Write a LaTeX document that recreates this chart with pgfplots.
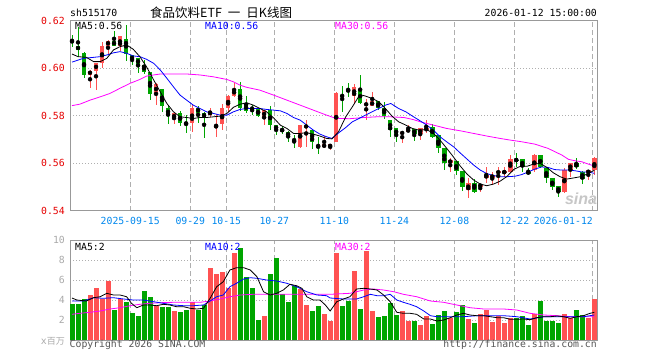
\documentclass[border=0pt]{standalone}
\usepackage{pgfplots}
\pgfplotsset{compat=1.18}
\usepackage{pgfplotstable}
\usepackage{fontspec}
\setmainfont{DejaVu Sans Mono}
\newfontfamily\cjk{Noto Sans CJK SC}
\newfontfamily\logofont{Liberation Sans}
\definecolor{cred}{RGB}{255,82,82}
\definecolor{cgreen}{RGB}{0,165,0}
\definecolor{tred}{RGB}{230,0,0}
\definecolor{tblue}{RGB}{0,136,238}
\definecolor{bgray}{RGB}{153,153,153}
\definecolor{ggray}{RGB}{175,175,175}
\definecolor{lgray}{RGB}{170,170,170}
\definecolor{cmag}{RGB}{255,0,255}
\definecolor{cblue}{RGB}{0,0,255}
\definecolor{dgray}{RGB}{85,85,85}
\newcommand\f{\fontsize{9.8pt}{11pt}\selectfont}
\pgfplotsset{/pgf/number format/assume math mode=true}

% red (rising) candles: index open high low close
\pgfplotstableread{
i o h l c
3 0.5972 0.5990 0.5916 0.5989
4 0.5989 0.6022 0.5909 0.6021
5 0.6021 0.6108 0.6000 0.6094
6 0.6094 0.6118 0.6053 0.6115
8 0.6091 0.6135 0.6070 0.6133
14 0.5891 0.5937 0.5846 0.5933
17 0.5784 0.5815 0.5764 0.5812
20 0.5770 0.5844 0.5730 0.5830
23 0.5802 0.5832 0.5794 0.5819
24 0.5749 0.5806 0.5708 0.5760
25 0.5764 0.5848 0.5739 0.5830
26 0.5833 0.5887 0.5816 0.5882
27 0.5884 0.5936 0.5880 0.5912
32 0.5791 0.5825 0.5760 0.5823
38 0.5669 0.5762 0.5663 0.5760
39 0.5749 0.5781 0.5669 0.5760
42 0.5666 0.5714 0.5665 0.5680
43 0.5666 0.5682 0.5655 0.5680
44 0.5690 0.5899 0.5689 0.5894
47 0.5884 0.5933 0.5851 0.5919
49 0.5844 0.5872 0.5781 0.5851
50 0.5841 0.5900 0.5840 0.5861
55 0.5722 0.5733 0.5686 0.5732
56 0.5732 0.5760 0.5731 0.5742
58 0.5722 0.5747 0.5697 0.5746
59 0.5739 0.5781 0.5725 0.5746
63 0.5601 0.5620 0.5563 0.5613
66 0.5486 0.5536 0.5454 0.5517
68 0.5502 0.5512 0.5478 0.5510
69 0.5538 0.5585 0.5515 0.5550
70 0.5538 0.5563 0.5508 0.5550
71 0.5558 0.5585 0.5508 0.5566
72 0.5558 0.5585 0.5540 0.5566
73 0.5563 0.5634 0.5562 0.5616
77 0.5571 0.5638 0.5562 0.5634
82 0.5478 0.5578 0.5476 0.5571
83 0.5571 0.5602 0.5543 0.5600
86 0.5557 0.5573 0.5529 0.5571
87 0.5571 0.5627 0.5550 0.5620
}\redk

% green (falling) candles
\pgfplotstableread{
i o h l c
0 0.6115 0.6139 0.6090 0.6109
1 0.6094 0.6171 0.6045 0.6075
2 0.6063 0.6067 0.5958 0.5969
7 0.6115 0.6155 0.6091 0.6094
9 0.6123 0.6182 0.6028 0.6059
10 0.6053 0.6055 0.6013 0.6032
11 0.6042 0.6044 0.5979 0.6014
12 0.6014 0.6035 0.5977 0.5983
13 0.5983 0.5985 0.5867 0.5891
15 0.5910 0.5914 0.5816 0.5841
16 0.5833 0.5844 0.5764 0.5799
18 0.5809 0.5819 0.5756 0.5770
19 0.5770 0.5802 0.5728 0.5765
21 0.5833 0.5840 0.5767 0.5812
22 0.5812 0.5815 0.5708 0.5791
28 0.5912 0.5941 0.5820 0.5832
29 0.5848 0.5882 0.5811 0.5819
30 0.5832 0.5844 0.5802 0.5828
31 0.5830 0.5832 0.5794 0.5799
33 0.5823 0.5840 0.5739 0.5760
34 0.5760 0.5762 0.5718 0.5739
35 0.5741 0.5756 0.5722 0.5737
36 0.5732 0.5735 0.5690 0.5711
37 0.5699 0.5718 0.5664 0.5695
40 0.5739 0.5743 0.5659 0.5690
41 0.5671 0.5708 0.5637 0.5667
45 0.5885 0.5924 0.5816 0.5881
46 0.5907 0.5938 0.5879 0.5903
48 0.5912 0.5971 0.5848 0.5851
51 0.5861 0.5863 0.5823 0.5833
52 0.5830 0.5858 0.5785 0.5799
53 0.5781 0.5783 0.5711 0.5739
54 0.5746 0.5747 0.5690 0.5718
57 0.5742 0.5743 0.5694 0.5722
60 0.5753 0.5764 0.5705 0.5711
61 0.5718 0.5720 0.5643 0.5662
62 0.5662 0.5663 0.5571 0.5601
64 0.5608 0.5611 0.5550 0.5566
65 0.5566 0.5569 0.5484 0.5499
67 0.5517 0.5533 0.5476 0.5478
74 0.5615 0.5641 0.5585 0.5611
75 0.5616 0.5617 0.5563 0.5585
76 0.5562 0.5578 0.5550 0.5558
78 0.5634 0.5636 0.5579 0.5582
79 0.5579 0.5581 0.5515 0.5536
80 0.5536 0.5537 0.5489 0.5499
81 0.5503 0.5505 0.5457 0.5477
84 0.5599 0.5620 0.5574 0.5582
85 0.5563 0.5566 0.5512 0.5535
}\greenk

\pgfplotstableread{
i v
3 4.5
4 5.23
5 4.1
6 5.9
8 4.1
14 3.43
17 2.9
20 3.77
23 7.23
24 6.6
25 6.77
26 5.23
27 8.73
32 2.43
38 5.1
39 3.5
42 2.57
43 1.93
44 8.67
47 6.9
49 8.9
50 2.9
55 2.9
56 1.93
58 1.5
59 2.4
63 2.23
66 2.1
68 2.57
69 3.0
70 1.83
71 2.43
72 1.73
73 2.23
77 2.57
82 2.57
83 2.17
86 2.23
87 4.1
}\redv

\pgfplotstableread{
i v
0 3.6
1 3.6
2 4.1
7 3.0
9 3.77
10 2.67
11 2.4
12 4.9
13 4.33
15 3.27
16 3.27
18 2.77
19 3.0
21 3.0
22 3.5
28 9.23
29 6.33
30 5.23
31 2.0
33 6.6
34 8.17
35 4.57
36 3.83
37 5.43
40 2.9
41 3.43
45 3.4
46 3.9
48 3.1
51 2.33
52 2.43
53 3.73
54 2.5
57 1.9
60 1.6
61 2.5
62 2.9
64 2.77
65 3.5
67 1.73
74 2.23
75 2.43
76 1.5
78 3.9
79 1.93
80 1.93
81 1.73
84 3.0
85 2.5
}\greenv

\pgfplotsset{
  panel/.style={
    anchor=south west, scale only axis, width=527.3pt,
    xmin=-0.3333, xmax=87.5,
    axis line style={draw=bgray, line width=0.9pt},
    tick style={draw=none},
    xtick={9.7,19.7,25.7,33.7,43.7,53.7,63.7,73.7,86.75},
    xmajorgrids, ymajorgrids,
    x grid style={draw=ggray, line width=0.9pt, dash pattern=on 5pt off 3pt},
    y grid style={draw=ggray, line width=0.8pt, dash pattern=on 1pt off 2pt},
  },
  wick/.style={only marks, mark=none, forget plot,
    error bars/.cd, y dir=both, y explicit, error mark=none,
    error bar style={draw=#1, line width=1pt, solid}},
  body/.style={only marks, mark=none, forget plot,
    error bars/.cd, y dir=both, y explicit, error mark=none,
    error bar style={draw=#1, line width=4.6pt, solid}},
}

\begin{document}
\begin{tikzpicture}
\fill[white] (0pt,0pt) rectangle (660pt,360pt);
\path[use as bounding box] (0pt,0pt) rectangle (660pt,360pt);

\begin{axis}[panel, at={(70pt,149.3pt)}, height=190.2pt,
  ymin=0.54, ymax=0.62,
  xticklabels={2025-09-15,09-29,10-15,10-27,11-10,11-24,12-08,12-22,\llap{2026-01-12}},
  xticklabel style={text=tblue, font=\f, anchor=base, inner sep=0pt, yshift=-14pt},
  ytick={0.54,0.56,0.58,0.60,0.62},
  yticklabels={0.54,0.56,0.58,0.60,0.62},
  yticklabel style={text=tred, font=\f, anchor=east, inner sep=0pt, xshift=-5pt},
]
\addplot[wick=cgreen] table[x=i, y expr={(\thisrow{h}+\thisrow{l})/2}, y error expr={(\thisrow{h}-\thisrow{l})/2}] {\greenk};
\addplot[wick=cred] table[x=i, y expr={(\thisrow{h}+\thisrow{l})/2}, y error expr={(\thisrow{h}-\thisrow{l})/2}] {\redk};
\addplot[body=cgreen] table[x=i, y expr={(\thisrow{o}+\thisrow{c})/2}, y error expr={abs(\thisrow{o}-\thisrow{c})/2}] {\greenk};
\addplot[body=cred] table[x=i, y expr={(\thisrow{o}+\thisrow{c})/2}, y error expr={abs(\thisrow{o}-\thisrow{c})/2}] {\redk};

% MA30
\addplot[cmag, line width=0.8pt, mark=none] coordinates {(0,0.5842)(1.3,0.5848)(3,0.5865)(4.7,0.5879)(6.3,0.5893)(8,0.5915)(9.7,0.5936)(11.3,0.5952)(12.4,0.5966)(13.6,0.5971)(14.7,0.5975)(16.9,0.5975)(19.1,0.5975)(21.3,0.5971)(23.6,0.5963)(25.8,0.5952)(26.9,0.5942)(28,0.5928)(29.1,0.5919)(31.3,0.5907)(33.6,0.5886)(35.8,0.5865)(38,0.5844)(40.2,0.5823)(42.4,0.5802)(44,0.5788)(46.3,0.5787)(48.6,0.5792)(50.8,0.5795)(53,0.5795)(55.3,0.5792)(56.9,0.5783)(58,0.5774)(60.2,0.5760)(62.4,0.5746)(64.7,0.5736)(66.9,0.5725)(69.1,0.5714)(71.3,0.5704)(73,0.5697)(74.9,0.5690)(77.1,0.5680)(79.3,0.5662)(81.6,0.5634)(82.7,0.5616)(83.8,0.5610)(84.9,0.5606)(86,0.5596)(87,0.5588)};
% MA10
\addplot[cblue, line width=0.8pt, mark=none] coordinates {(0,0.6025)(1.9,0.6041)(3.6,0.6045)(4.7,0.6048)(5.8,0.6055)(6.9,0.6064)(8,0.6069)(9.1,0.6062)(10.2,0.6051)(11.3,0.6048)(12.4,0.6037)(13.6,0.6020)(14.7,0.5992)(15.8,0.5957)(16.9,0.5921)(18,0.5886)(19.1,0.5865)(20.2,0.5844)(21.3,0.5830)(22.4,0.5816)(23.6,0.5809)(24.7,0.5802)(25.8,0.5802)(26.9,0.5816)(28,0.5826)(29.1,0.5830)(31.3,0.5830)(32.4,0.5826)(33.6,0.5823)(34.7,0.5820)(35.8,0.5809)(36.9,0.5792)(38,0.5781)(39.1,0.5760)(40.2,0.5739)(41.3,0.5722)(42.4,0.5711)(43.3,0.5704)(44.4,0.5727)(45.6,0.5750)(46.7,0.5774)(47.8,0.5788)(48.9,0.5802)(50,0.5816)(51.1,0.5830)(52.2,0.5844)(53.1,0.5851)(54.4,0.5830)(55.6,0.5816)(56.7,0.5798)(57.8,0.5781)(59.1,0.5760)(60.2,0.5739)(61.3,0.5711)(62.4,0.5690)(63.6,0.5668)(64.7,0.5642)(65.8,0.5617)(66.9,0.5592)(68,0.5571)(69.1,0.5556)(70.2,0.5548)(71.3,0.5543)(72.4,0.5543)(73.8,0.5545)(74.9,0.5552)(76,0.5563)(77.1,0.5575)(78.2,0.5584)(79.3,0.5582)(80.4,0.5573)(81.6,0.5571)(82.7,0.5571)(83.8,0.5568)(84.9,0.5563)(86,0.5563)(87,0.5557)};
% MA5
\addplot[black, line width=0.8pt, mark=none] coordinates {(0,0.6059)(1,0.6048)(2.4,0.6045)(3.6,0.6027)(4.7,0.6027)(5.8,0.6041)(6.9,0.6076)(8,0.6090)(9.1,0.6097)(10.2,0.6079)(11.3,0.6048)(12.4,0.6006)(13.6,0.5950)(14.7,0.5900)(15.8,0.5851)(16.9,0.5816)(18,0.5795)(19.1,0.5792)(20.2,0.5788)(21.3,0.5792)(22.4,0.5792)(23.6,0.5795)(24.7,0.5798)(25.8,0.5809)(26.9,0.5835)(28,0.5848)(29.1,0.5854)(30.2,0.5844)(31.3,0.5830)(32.4,0.5816)(33.6,0.5790)(34.7,0.5760)(35.8,0.5746)(36.9,0.5725)(37.9,0.5725)(39.1,0.5728)(40.2,0.5722)(41.3,0.5714)(42.4,0.5704)(43.3,0.5702)(44.4,0.5732)(45.6,0.5795)(46.7,0.5837)(47.8,0.5882)(48.3,0.5886)(48.9,0.5882)(50,0.5872)(51.1,0.5858)(52.2,0.5830)(53.3,0.5798)(54.4,0.5774)(55.6,0.5760)(56.7,0.5746)(57.8,0.5739)(59.1,0.5741)(60.2,0.5725)(61.3,0.5697)(62.2,0.5669)(63.3,0.5634)(64.7,0.5587)(65.8,0.5554)(66.9,0.5529)(68,0.5512)(69.1,0.5505)(70.2,0.5512)(71.3,0.5524)(72.4,0.5543)(73.6,0.5574)(74.7,0.5587)(75.8,0.5587)(76.9,0.5596)(78,0.5599)(79.1,0.5582)(80.2,0.5559)(81.3,0.5543)(82.4,0.5533)(83.6,0.5538)(84.7,0.5543)(85.8,0.5554)(87,0.5570)};
\end{axis}

\begin{axis}[panel, at={(70pt,20pt)}, height=100pt,
  ymin=0, ymax=10,
  xticklabels={},
  ytick={2,4,6,8,10}, yticklabels={2,4,6,8,10},
  yticklabel style={text=lgray, font=\f, anchor=east, inner sep=0pt, xshift=-5pt},
]
\addplot[ycomb, draw=cred, line width=5pt, mark=none] table[x=i, y=v] {\redv};
\addplot[ycomb, draw=cgreen, line width=5pt, mark=none] table[x=i, y=v] {\greenv};
\addplot[cmag, line width=0.8pt, mark=none] coordinates {(0,2.57)(1.3,2.67)(3,2.77)(4.7,2.9)(6.3,3.1)(8,3.23)(9.7,3.43)(11.3,3.57)(13,3.67)(14.7,3.73)(16.9,3.77)(19.1,3.77)(21.3,3.77)(23,3.9)(24.7,4.1)(26.3,4.33)(28,4.5)(30.2,4.57)(32.4,4.57)(35.2,4.57)(38,4.57)(40.8,4.57)(43,4.57)(46.3,4.67)(48.6,5.0)(50.2,5.1)(51.9,5.0)(53.6,4.83)(55.2,4.57)(57.4,4.33)(59.7,3.9)(61.9,3.77)(64.1,3.5)(66.3,3.23)(68.6,3.1)(71.9,3.1)(74.1,3.0)(76.3,2.67)(78.6,2.5)(80.8,2.43)(83,2.33)(85.2,2.33)(87,2.33)};
\addplot[cblue, line width=0.8pt, mark=none] coordinates {(0,3.9)(1.9,3.9)(3.6,4.23)(5.2,4.17)(6.9,4.23)(8.6,4.1)(10.2,4.0)(11.9,4.0)(13.6,3.83)(15.2,3.67)(16.9,3.5)(18.6,3.43)(20.2,3.43)(21.9,3.5)(23,3.9)(24.1,4.33)(25.2,4.5)(26.3,5.33)(27.4,5.67)(28.6,6.1)(29.7,6.23)(30.8,6.17)(32.4,6.0)(34.1,5.9)(35.8,5.67)(37.4,5.33)(39.1,4.83)(40.8,4.5)(42.4,4.43)(43,4.2)(45.2,4.1)(47.4,4.1)(48.6,4.33)(49.7,4.57)(50.8,4.43)(51.9,4.43)(53,4.57)(54.1,4.0)(55.2,3.77)(56.3,3.57)(57.4,3.33)(58.6,2.9)(59.7,2.43)(60.8,2.33)(63,2.33)(65.2,2.33)(67.4,2.43)(69.7,2.43)(71.9,2.43)(74.1,2.33)(76.3,2.1)(78.6,2.33)(80.8,2.33)(83,2.33)(85.2,2.33)(87,2.5)};
\addplot[black, line width=0.8pt, mark=none] coordinates {(0,4.2)(0.8,4.0)(2.4,3.9)(3.6,4.23)(4.7,4.33)(5.8,4.67)(6.9,4.5)(8,4.5)(9.1,4.33)(9.9,3.67)(10.8,3.23)(11.9,3.5)(13,3.5)(14.1,3.43)(15.2,3.57)(16.3,3.5)(17.4,3.33)(18.6,3.33)(19.7,3.17)(20.8,3.1)(21.9,3.17)(23,4.17)(24.1,5.33)(25.2,5.83)(26.3,7.0)(27.4,7.23)(28.6,7.23)(29.7,7.0)(30.8,6.33)(31.9,4.83)(33,4.5)(34.1,4.67)(35.2,5.0)(36.3,5.57)(37.4,5.43)(38.3,5.17)(39.1,4.33)(40.2,4.0)(41.3,4.0)(42.2,3.5)(43,2.9)(44.1,3.83)(45.2,4.1)(46.3,4.33)(47.4,5.1)(48.6,5.17)(49.7,5.1)(50.8,5.0)(51.9,4.5)(53,3.83)(54.1,2.77)(55.2,2.67)(56.3,2.67)(57.4,2.57)(58.6,2.1)(59.7,2.1)(60.8,1.9)(61.9,2.0)(63,2.23)(64.1,2.5)(65.2,2.67)(66.3,2.5)(67.4,2.43)(68.6,2.43)(69.7,2.33)(70.8,2.23)(71.9,2.23)(73,2.07)(74.1,2.07)(75.2,2.1)(76.3,2.03)(77.4,2.23)(78.6,2.33)(79.7,2.33)(80.8,2.4)(81.9,2.33)(83,2.17)(84.1,2.33)(85.2,2.43)(86.3,2.67)(87,2.77)};
\end{axis}

% header
\node[anchor=west, inner sep=0pt] at (70pt,346.8pt) {\f sh515170};
\node[anchor=west, inner sep=0pt] at (150pt,347pt) {\cjk\fontsize{12.5pt}{14pt}\selectfont 食品饮料ETF\hspace{6pt}一\hspace{6pt}日K线图};
\node[anchor=east, inner sep=0pt] at (597pt,347.3pt) {\f 2026-01-12 15:00:00};
% legends
\node[anchor=west, inner sep=0pt] at (75pt,334pt) {\f MA5:0.56};
\node[anchor=west, inner sep=0pt, text=cblue] at (205pt,334pt) {\f MA10:0.56};
\node[anchor=west, inner sep=0pt, text=cmag] at (335pt,334pt) {\f MA30:0.56};
\node[anchor=west, inner sep=0pt] at (75pt,113.3pt) {\f MA5:2};
\node[anchor=west, inner sep=0pt, text=cblue] at (205pt,113.3pt) {\f MA10:2};
\node[anchor=west, inner sep=0pt, text=cmag] at (335pt,113.3pt) {\f MA30:2};
% footer
\node[anchor=east, inner sep=0pt, text=lgray] at (65pt,18.3pt) {\f x{\cjk\fontsize{9pt}{10pt}\selectfont 百万}};
\node[anchor=west, inner sep=0pt, text=dgray] at (69.5pt,15pt) {\f Copyright 2026 SINA.COM};
\node[anchor=east, inner sep=0pt, text=dgray] at (597pt,15pt) {\f http://finance.sina.com.cn};
% watermark
\node[inner sep=0pt, text=black!22] at (581pt,161pt) {\logofont\bfseries\itshape\fontsize{16pt}{16pt}\selectfont sina};
\end{tikzpicture}
\end{document}
